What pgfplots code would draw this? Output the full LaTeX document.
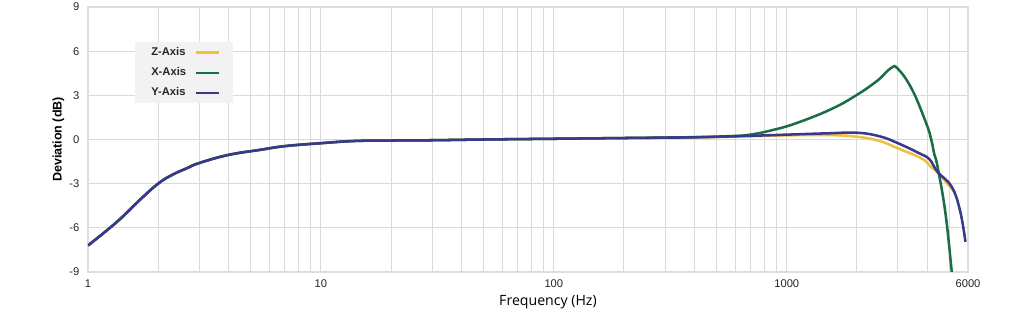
\documentclass[border=0pt]{standalone}
\usepackage{pgfplots}
\pgfplotsset{compat=1.18}
\usepackage{fontspec}
\setmainfont{Liberation Sans}
\newfontfamily\opensans{Open Sans}
\definecolor{zcol}{HTML}{F0C03C}
\definecolor{xcol}{HTML}{1A6E46}
\definecolor{ycol}{HTML}{38388C}
\definecolor{gridc}{HTML}{DADADA}
\begin{document}
\begin{tikzpicture}[x=1pt,y=1pt]
\path[use as bounding box] (-66,-33.75) rectangle (702,204);
\begin{axis}[
  scale only axis,
  width=660pt, height=198.75pt,
  xmode=log,
  xmin=1, xmax=6000,
  ymin=-9, ymax=9,
  xtick={1,10,100,1000,6000},
  xticklabels={1,10,100,1000,6000},
  minor xtick={2,3,4,5,6,7,8,9,20,30,40,50,60,70,80,90,200,300,400,500,600,700,800,900,2000,3000,4000,5000},
  ytick={-9,-6,-3,0,3,6,9},
  yticklabels={-9,-6,-3,0,3,6,9},
  xmajorgrids, xminorgrids, ymajorgrids,
  major grid style={gridc, line width=0.7pt},
  minor grid style={gridc, line width=0.7pt},
  axis line style={gridc!90, line width=0.9pt},
  major tick length=0pt, minor tick length=0pt,
  tick label style={font=\fontsize{8.4}{10}\selectfont, text=black!85},
  xticklabel style={yshift=-2pt},
  yticklabel style={xshift=-3pt},
  xlabel={\opensans Frequency (Hz)},
  ylabel={\bfseries Deviation (dB)},
  xlabel style={font=\fontsize{10.6}{12}\selectfont, yshift=1pt, xshift=15pt},
  ylabel style={font=\fontsize{9.4}{11}\selectfont, yshift=-3pt},
  legend plot pos=right,
  legend cell align=left,
  legend image code/.code={\draw[#1, line width=1.8pt] (0pt,0pt) -- (17pt,0pt);},
  legend style={at={(0.0534,0.868)}, anchor=north west, fill=black!5, draw=none,
    font=\fontsize{8.4}{10}\selectfont\bfseries, inner xsep=10pt, inner ysep=2pt,
    row sep=3.5pt, column sep=4.5pt, text=black!85},
  every axis plot/.append style={line width=1.9pt, smooth, tension=0.7},
]
\addplot[zcol] coordinates {
(1,-7.2) (1.33,-5.6) (1.67,-4.1) (2.0,-3.0) (2.3,-2.4) (2.66,-1.95) (3,-1.6) (4,-1.05) (5.5,-0.7) (7,-0.45) (10,-0.25) (14,-0.1) (20,-0.07) (30,-0.05) (50,0.0) (100,0.05) (200,0.1) (400,0.15)
(700,0.22) (1000,0.28) (1500,0.3) (2000,0.19) (2500,-0.1) (3000,-0.6) (3800,-1.3) (4150,-1.85) (4450,-2.26) (5150,-3.4) (5300,-3.6)
};
\addlegendentry{Z-Axis}
\addplot[xcol] coordinates {
(1,-7.2) (1.33,-5.6) (1.67,-4.1) (2.0,-3.0) (2.3,-2.4) (2.66,-1.95) (3,-1.6) (4,-1.05) (5.5,-0.7) (7,-0.45) (10,-0.25) (14,-0.1) (20,-0.07) (30,-0.05) (50,0.0) (100,0.05) (200,0.1) (400,0.16)
(550,0.22) (690,0.32) (900,0.7) (1140,1.2) (1570,2.1) (2000,3.03) (2450,4.0) (2800,4.85) (3000,4.8) (3450,3.4) (3970,1.1) (4170,0.0) (4300,-1.0) (4440,-1.85) (4800,-5.0) (5120,-9.1) (5200,-9.8)
};
\addlegendentry{X-Axis}
\addplot[ycol] coordinates {
(1,-7.2) (1.33,-5.6) (1.67,-4.1) (2.0,-3.0) (2.3,-2.4) (2.66,-1.95) (3,-1.6) (4,-1.05) (5.5,-0.7) (7,-0.45) (10,-0.25) (14,-0.1) (20,-0.07) (30,-0.05) (50,0.0) (100,0.05) (200,0.1) (400,0.15)
(700,0.25) (1000,0.33) (1500,0.42) (2000,0.46) (2500,0.22) (3000,-0.25) (3700,-0.93) (4100,-1.35) (4440,-2.2) (5100,-3.2) (5540,-4.8) (5850,-6.95)
};
\addlegendentry{Y-Axis}
\end{axis}
\end{tikzpicture}
\end{document}
